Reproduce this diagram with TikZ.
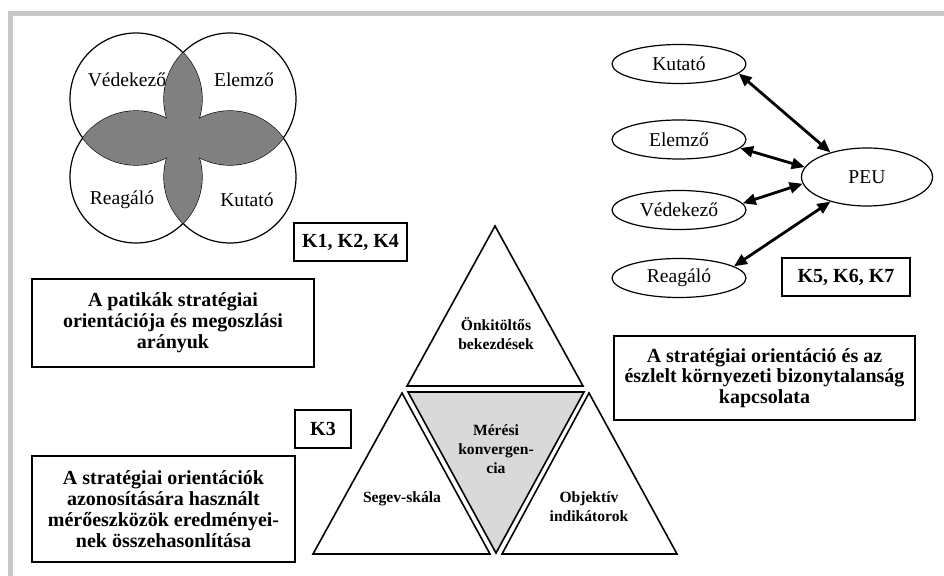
\documentclass[tikz,border=0pt]{standalone}
\usepackage{fontspec}
\setmainfont{Liberation Serif}
\definecolor{framegray}{RGB}{200,200,200}
\definecolor{petalgray}{RGB}{128,128,128}
\definecolor{convgray}{RGB}{217,217,217}
\usetikzlibrary{arrows.meta,positioning,shapes.geometric}

\begin{document}
\begin{tikzpicture}[x=0.5pt, y=-0.5pt,
  labelbox/.style={draw, line width=1pt, inner sep=0pt, align=center,
    font=\fontsize{10}{10.4}\selectfont\bfseries},
  kbox/.style={labelbox, minimum height=19pt},
  tri/.style={draw, line width=0.8pt, line join=miter},
  tritext/.style={align=center, font=\fontsize{7.8}{9.5}\selectfont\bfseries},
  oval/.style={draw, ellipse, line width=0.6pt, inner sep=0pt,
    minimum width=67pt, minimum height=19.5pt, font=\fontsize{9.8}{12}\selectfont},
  venntext/.style={font=\fontsize{9.8}{12}\selectfont},
  twoway/.style={{Triangle[length=6.5pt,width=5.5pt]}-{Triangle[length=6.5pt,width=5.5pt]},
    line width=1.4pt}]

\useasboundingbox (0,0) rectangle (944,576);

% === Frame ===
\draw[framegray, line width=2.5pt] (10.5,576) -- (10.5,13.5) -- (944,13.5);

% === Venn (top left) ===
\coordinate (ctl) at (136,99);
\coordinate (ctr) at (230,99);
\coordinate (cbl) at (136,177);
\coordinate (cbr) at (230,177);
\foreach \c in {ctl,ctr,cbl,cbr}
  \draw[line width=0.6pt] (\c) circle[radius=33pt];
\begin{scope}
  \clip (ctl) circle[radius=33pt];
  \fill[petalgray] (ctr) circle[radius=33pt];
  \fill[petalgray] (cbl) circle[radius=33pt];
\end{scope}
\begin{scope}
  \clip (cbr) circle[radius=33pt];
  \fill[petalgray] (ctr) circle[radius=33pt];
  \fill[petalgray] (cbl) circle[radius=33pt];
\end{scope}
\node[venntext] (vvedekezo) at (127,80) {Védekező};
\node[venntext] (velemzo) at (244,80) {Elemző};
\node[venntext] (vreagalo) at (122,200) {Reagáló};
\node[venntext] (vkutato) at (247,200) {Kutató};

\node[kbox, minimum width=56.5pt] (k124) at (350.5,242) {K1, K2, K4};
\node[labelbox, minimum width=141pt, minimum height=44pt] (patikak) at (173,323)
  {A patikák stratégiai\\orientációja és megoszlási\\arányuk};

% === Triangles (middle) ===
\draw[tri] (407,386) -- (495,226) -- (583,386) -- cycle;
\draw[tri, fill=convgray] (408,392) -- (584,392) -- (496,553) -- cycle;
\draw[tri] (313,554) -- (402,393) -- (490,554) -- cycle;
\draw[tri] (502,554) -- (589,393) -- (677,554) -- cycle;
\node[tritext] (onkitoltos) at (496,334) {Önkitöltős\\bekezdések};
\node[tritext] (meresi) at (496,449) {Mérési\\konvergen-\\cia};
\node[tritext] (segev) at (402,499) {Segev-skála};
\node[tritext] (objektiv) at (589,507) {Objektív\\indikátorok};

\node[kbox, minimum width=28pt] (k3) at (323,429) {K3};
\node[labelbox, minimum width=131.5pt, minimum height=53pt] (meroeszkozok) at (163.5,509)
  {A stratégiai orientációk\\azonosítására használt\\mérőeszközök eredményei-\\nek összehasonlítása};

% === PEU (top right) ===
\node[oval] (kutato) at (679,64) {Kutató};
\node[oval] (elemzo) at (679,139.5) {Elemző};
\node[oval] (vedekezo) at (679,210) {Védekező};
\node[oval] (reagalo) at (679,278) {Reagáló};
\node[oval, minimum width=65.5pt, minimum height=29pt] (peu) at (867,177) {PEU};

\draw[twoway] (kutato.-9) -- (peu.146);
\draw[twoway] (elemzo.-8) -- (peu.171);
\draw[twoway] (vedekezo.6) -- (peu.186);
\draw[twoway] (reagalo.12) -- (peu.214);

\node[kbox, minimum width=64pt] (k567) at (846,277.5) {K5, K6, K7};
\node[labelbox, minimum width=150.5pt, minimum height=42pt] (kapcsolat) at (764.5,378)
  {A stratégiai orientáció és az\\észlelt környezeti bizonytalanság\\kapcsolata};

\end{tikzpicture}
\end{document}
